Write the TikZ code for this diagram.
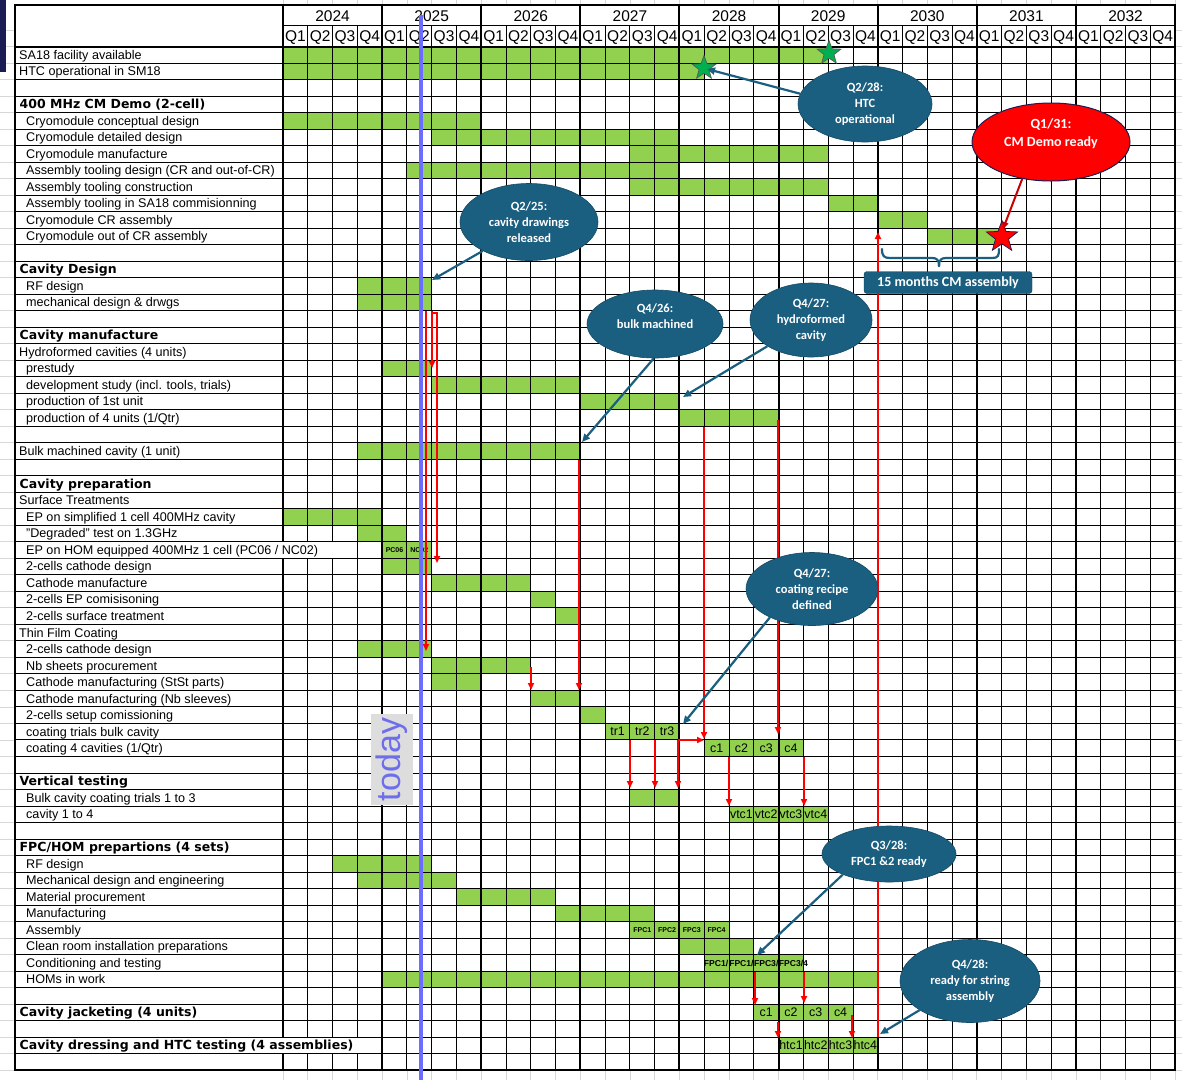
\documentclass[tikz,border=0pt]{standalone}
\usepackage{fontspec}
\setmainfont{Liberation Sans}
\newfontfamily\dvb{DejaVu Sans}
\newfontfamily\calib{Carlito}
\usetikzlibrary{shapes.geometric,arrows.meta}
\definecolor{gr}{RGB}{146,208,80}
\definecolor{tealc}{RGB}{26,94,128}
\definecolor{todayc}{RGB}{108,108,255}
\definecolor{todayt}{RGB}{110,110,235}
\definecolor{todayb}{RGB}{221,221,221}
\definecolor{xlgrid}{RGB}{215,215,215}
\definecolor{navyc}{RGB}{28,28,84}
\definecolor{starg}{RGB}{0,176,80}
\definecolor{darkred}{RGB}{200,0,0}
\newcommand\rowc[1]{46.5+16.51*(#1-0.5)}
\newcommand\qx[1]{283+24.78*(#1)}
\newcommand\rlab[3]{\node[labtxt] (L#1) at (#2,{\rowc{#1}+4.4}) {#3};}
\newcommand\rlabb[2]{\node[labbold] (L#1) at (19.5,{\rowc{#1}+4.4}) {#2};}
\newcommand\celltext[4]{\node[#4] (C#1x#2) at ({\qx{#2+0.5}},{\rowc{#1}+4.3}) {#3};}
\begin{document}
\begin{tikzpicture}[x=1pt,y=-1pt,
  labtxt/.style={anchor=base west,inner sep=0pt,font=\fontsize{12.6}{14}\selectfont},
  labbold/.style={anchor=base west,inner sep=0pt,font=\dvb\bfseries\fontsize{12.5}{14}\selectfont},
  hdr/.style={anchor=base,inner sep=0pt,font=\fontsize{15.5}{16}\selectfont},
  celltxt/.style={anchor=base,inner sep=0pt,font=\fontsize{12.4}{14}\selectfont},
  tinyb/.style={anchor=base,inner sep=0pt,font=\bfseries\fontsize{7}{8}\selectfont},
  condtxt/.style={anchor=base west,inner sep=0pt,font=\bfseries\fontsize{8.6}{9}\selectfont},
  callout/.style={ellipse,fill=tealc,draw=tealc!80!black,line width=0.6pt,text=white,inner sep=0pt,align=center,font=\calib\bfseries\fontsize{12.5}{16}\selectfont},
  redarr/.style={red,line width=2pt,-{Triangle[length=7pt,width=6pt]}},
  tealarr/.style={tealc,line width=2.2pt,-{Triangle[length=8pt,width=7pt]}},
  thinl/.style={line width=0.9pt},
  thickl/.style={line width=2pt},
  starshape/.style={star,star points=5,star point ratio=2.4,inner sep=0pt,line width=0.7pt}
]
\useasboundingbox (0,0) rectangle (1182,1080);
\fill[white] (0,0) rectangle (1182,1080);
% faint spreadsheet gridlines outside the table
\foreach \r in {-1,0,...,62} {
  \draw[xlgrid,line width=0.8pt] (0,{46.5+16.51*\r}) -- (15,{46.5+16.51*\r});
  \draw[xlgrid,line width=0.8pt] (1175,{46.5+16.51*\r}) -- (1182,{46.5+16.51*\r});
}
\foreach \q in {0,...,36} {
  \draw[xlgrid,line width=0.8pt] ({\qx{\q}},1070) -- ({\qx{\q}},1080);
  \draw[xlgrid,line width=0.8pt] ({\qx{\q}},0) -- ({\qx{\q}},5);
}
% slide edge bar
\fill[navyc] (0,0) rectangle (6,72);
% green bars
\foreach \r/\qa/\qb in {1/0/21,2/0/16,5/0/7,6/6/15,7/14/21,8/5/15,9/14/21,10/22/23,11/24/25,12/26/28,15/3/5,16/3/5,20/4/5,21/6/11,22/12/15,23/16/19,25/3/11,29/0/3,30/3/4,31/4/5,32/4/5,33/6/9,34/10/10,35/11/11,37/3/5,38/6/9,39/6/7,40/10/11,41/12/12,42/13/15,43/17/20,46/14/15,47/18/21,50/2/5,51/3/6,52/7/10,53/11/14,54/14/17,55/16/18,56/17/20,57/4/23,59/19/22,61/20/23}
  \fill[gr] ({\qx{\qa}},{46.5+16.51*(\r-1)}) rectangle ({\qx{\qb+1}},{46.5+16.51*\r});
% grid
\foreach \r in {1,...,61} \draw[thinl] (15,{46.5+16.51*\r}) -- (1175,{46.5+16.51*\r});
\draw[thinl] (283,25) -- (1175,25);
\foreach \k in {0,...,8} \foreach \j in {1,2,3}
  \draw[thinl] ({283+99.12*\k+24.78*\j},25) -- ({283+99.12*\k+24.78*\j},1070);
\foreach \k in {1,...,8} \draw[thickl] ({283+99.12*\k},5) -- ({283+99.12*\k},1070);
\draw[thickl] (283,5) -- (283,1070);
\draw[thickl] (15,46.5) -- (1175,46.5);
\draw[line width=2.5pt] (15,5) rectangle (1175,1070.1);
% overflow covers
\fill[white] (281.8,542.4) rectangle (332.5,557.7);
\fill[white] (281.8,1037.7) rectangle (357.5,1053);
% header
\foreach \yr [count=\k from 0] in {2024,2025,2026,2027,2028,2029,2030,2031,2032}
  \node[hdr] (Y\yr) at ({283+99.12*(\k+0.5)},21) {\yr};
\foreach \k in {0,...,8} \foreach \j in {1,2,3,4}
  \node[hdr] (Q\k x\j) at ({283+99.12*\k+24.78*(\j-0.5)},41.5) {Q\j};
% labels
\rlab{1}{19}{SA18 facility available}
\rlab{2}{19}{HTC operational in SM18}
\rlabb{4}{400 MHz CM Demo (2-cell)}
\rlab{5}{26}{Cryomodule conceptual design}
\rlab{6}{26}{Cryomodule detailed design}
\rlab{7}{26}{Cryomodule manufacture}
\rlab{8}{26}{Assembly tooling design (CR and out-of-CR)}
\rlab{9}{26}{Assembly tooling construction}
\rlab{10}{26}{Assembly tooling in SA18 commisionning}
\rlab{11}{26}{Cryomodule CR assembly}
\rlab{12}{26}{Cryomodule out of CR assembly}
\rlabb{14}{Cavity Design}
\rlab{15}{26}{RF design}
\rlab{16}{26}{mechanical design \& drwgs}
\rlabb{18}{Cavity manufacture}
\rlab{19}{19}{Hydroformed cavities (4 units)}
\rlab{20}{26}{prestudy}
\rlab{21}{26}{development study (incl. tools, trials)}
\rlab{22}{26}{production of 1st unit}
\rlab{23}{26}{production of 4 units (1/Qtr)}
\rlab{25}{19}{Bulk machined cavity (1 unit)}
\rlabb{27}{Cavity preparation}
\rlab{28}{19}{Surface Treatments}
\rlab{29}{26}{EP on simplified 1 cell 400MHz cavity}
\rlab{30}{26}{"Degraded" test on 1.3GHz}
\rlab{31}{26}{EP on HOM equipped 400MHz 1 cell (PC06 / NC02)}
\rlab{32}{26}{2-cells cathode design}
\rlab{33}{26}{Cathode manufacture}
\rlab{34}{26}{2-cells EP comisisoning}
\rlab{35}{26}{2-cells surface treatment}
\rlab{36}{19}{Thin Film Coating}
\rlab{37}{26}{2-cells cathode design}
\rlab{38}{26}{Nb sheets procurement}
\rlab{39}{26}{Cathode manufacturing (StSt parts)}
\rlab{40}{26}{Cathode manufacturing (Nb sleeves)}
\rlab{41}{26}{2-cells setup comissioning}
\rlab{42}{26}{coating trials bulk cavity}
\rlab{43}{26}{coating 4 cavities (1/Qtr)}
\rlabb{45}{Vertical testing}
\rlab{46}{26}{Bulk cavity coating trials 1 to 3}
\rlab{47}{26}{cavity 1 to 4}
\rlabb{49}{FPC/HOM prepartions (4 sets)}
\rlab{50}{26}{RF design}
\rlab{51}{26}{Mechanical design and engineering}
\rlab{52}{26}{Material procurement}
\rlab{53}{26}{Manufacturing}
\rlab{54}{26}{Assembly}
\rlab{55}{26}{Clean room installation preparations}
\rlab{56}{26}{Conditioning and testing}
\rlab{57}{26}{HOMs in work}
\rlabb{59}{Cavity jacketing (4 units)}
\rlabb{61}{Cavity dressing and HTC testing (4 assemblies)}
% cell texts
\node[tinyb] (C31x4) at ({\qx{4.5}},{\rowc{31}+2.5}) {PC06};
\node[tinyb] (C31x5) at ({\qx{5.5}},{\rowc{31}+2.5}) {NC02};
\celltext{42}{13}{tr1}{celltxt}
\celltext{42}{14}{tr2}{celltxt}
\celltext{42}{15}{tr3}{celltxt}
\celltext{43}{17}{c1}{celltxt}
\celltext{43}{18}{c2}{celltxt}
\celltext{43}{19}{c3}{celltxt}
\celltext{43}{20}{c4}{celltxt}
\celltext{47}{18}{vtc1}{celltxt}
\celltext{47}{19}{vtc2}{celltxt}
\celltext{47}{20}{vtc3}{celltxt}
\celltext{47}{21}{vtc4}{celltxt}
\node[tinyb] (C54x14) at ({\qx{14.5}},{\rowc{54}+3}) {FPC1};
\node[tinyb] (C54x15) at ({\qx{15.5}},{\rowc{54}+3}) {FPC2};
\node[tinyb] (C54x16) at ({\qx{16.5}},{\rowc{54}+3}) {FPC3};
\node[tinyb] (C54x17) at ({\qx{17.5}},{\rowc{54}+3}) {FPC4};
\node[condtxt] (C56x17) at ({\qx{17}-0.5},{\rowc{56}+3.2}) {FPC1/};
\node[condtxt] (C56x18) at ({\qx{18}},{\rowc{56}+3.2}) {FPC1/};
\node[condtxt] (C56x19) at ({\qx{19}},{\rowc{56}+3.2}) {FPC3/};
\node[condtxt] (C56x20) at ({\qx{20}},{\rowc{56}+3.2}) {FPC3/4};
\celltext{59}{19}{c1}{celltxt}
\celltext{59}{20}{c2}{celltxt}
\celltext{59}{21}{c3}{celltxt}
\celltext{59}{22}{c4}{celltxt}
\celltext{61}{20}{htc1}{celltxt}
\celltext{61}{21}{htc2}{celltxt}
\celltext{61}{22}{htc3}{celltxt}
\celltext{61}{23}{htc4}{celltxt}
% today
\draw[todayc,line width=4.5pt] (421,15) coordinate (td1) -- (421,1080) coordinate (td2);
\node[fill=todayb,rotate=90,minimum width=91pt,minimum height=42pt,inner sep=0pt,text=todayt,font=\fontsize{34}{34}\selectfont] (todaylbl) at (392,759.5) {today};
% red dependency arrows
\coordinate (ra1) at (426,311);  \coordinate (rb1) at (426,651);
\coordinate (ra2) at (432,311);  \coordinate (rb2) at (432,368);
\coordinate (ra3) at (432,312.5);  \coordinate (rb3) at (437,563);
\coordinate (ra4) at (579,460);  \coordinate (rb4) at (579,690);
\coordinate (ra5) at (531,667);  \coordinate (rb5) at (531,690);
\coordinate (ra6) at (704,427);  \coordinate (rb6) at (704,739);
\coordinate (ra7) at (778,420);  \coordinate (rb7) at (778,734);
\coordinate (ra8) at (630,740);  \coordinate (rb8) at (630,788);
\coordinate (ra9) at (655,740);  \coordinate (rb9) at (655,788);
\coordinate (ra10) at (678,740); \coordinate (rb10) at (678,788);
\coordinate (rb11) at (704,740);
\coordinate (ra12) at (729,757); \coordinate (rb12) at (729,806);
\coordinate (ra13) at (804,757); \coordinate (rb13) at (804,806);
\coordinate (ra14) at (755,972); \coordinate (rb14) at (755,1005);
\coordinate (ra15) at (804,972); \coordinate (rb15) at (804,1003);
\coordinate (ra16) at (778,1022); \coordinate (rb16) at (778,1038);
\coordinate (ra17) at (852,1015); \coordinate (rb17) at (852,1038);
\coordinate (ra18) at (878,1037); \coordinate (rb18) at (878,232);
\draw[redarr] (ra1) -- (rb1);
\draw[redarr] (ra2) -- (rb2);
\draw[redarr] (ra3) -| (rb3);
\draw[redarr] (ra4) -- (rb4);
\draw[redarr] (ra5) -- (rb5);
\draw[redarr] (ra6) -- (rb6);
\draw[redarr] (ra7) -- (rb7);
\draw[redarr] (ra8) -- (rb8);
\draw[redarr] (ra9) -- (rb9);
\draw[redarr] (ra10) -- (rb10);
\draw[redarr] (ra10) -- (rb11);
\draw[redarr] (ra12) -- (rb12);
\draw[redarr] (ra13) -- (rb13);
\draw[redarr] (ra14) -- (rb14);
\draw[redarr] (ra15) -- (rb15);
\draw[redarr] (ra16) -- (rb16);
\draw[redarr] (ra17) -- (rb17);
\draw[redarr] (ra18) -- (rb18);
% stars
\node[starshape,fill=starg,draw=black!65,minimum size=25pt] (starA) at (829,53) {};
\node[starshape,fill=starg,draw=black!65,minimum size=25pt] (starB) at (704,68) {};
\node[starshape,fill=red,draw=navyc,minimum size=33pt] (starC) at (1002,237) {};
% callouts
\node[callout,minimum width=134pt,minimum height=76pt] (e1) at (865,104) {Q2/28:\\HTC\\operational};
\node[callout,fill=red,draw=navyc,line width=1pt,font=\calib\bfseries\fontsize{14}{18}\selectfont,minimum width=158pt,minimum height=78pt] (e2) at (1051,142) {Q1/31:\\CM Demo ready\\~};
\node[callout,minimum width=138pt,minimum height=77pt] (e3) at (529,222) {Q2/25:\\cavity drawings\\released};
\node[callout,minimum width=136pt,minimum height=68pt] (e4) at (655,324) {Q4/26:\\bulk machined\\~};
\node[callout,minimum width=122pt,minimum height=74pt] (e5) at (811,320) {Q4/27:\\hydroformed\\cavity};
\node[callout,minimum width=132pt,minimum height=73pt] (e6) at (812,589) {Q4/27:\\coating recipe\\defined};
\node[callout,minimum width=134pt,minimum height=56pt] (e7) at (889,854) {Q3/28:\\FPC1 \&2 ready};
\node[callout,minimum width=140pt,minimum height=83pt] (e8) at (970,981) {Q4/28:\\ready for string\\assembly};
\coordinate (t1) at (707,69);
\coordinate (t2) at (1003,229);
\coordinate (t3) at (432,280);
\coordinate (t4) at (582,442);
\coordinate (t5) at (683,397);
\coordinate (t6) at (683,724);
\coordinate (t7) at (757,955);
\coordinate (t8) at (880,1034);
\draw[tealarr] (e1.171) -- (t1);
\draw[darkred,line width=2pt,-{Triangle[length=7pt,width=6pt]}] (e2.232) -- (t2);
\draw[tealarr] (e3.212) -- (t3);
\draw[tealarr] (e4.268) -- (t4);
\draw[tealarr] (e5.211) -- (t5);
\draw[tealarr] (e6.214) -- (t6);
\draw[tealarr] (e7.204) -- (t7);
\draw[tealarr] (e8.210) -- (t8);
% 15 months brace and box
\draw[tealc,line width=2.2pt,line cap=round] (882,249) .. controls (882,256) and (884,258) .. (890,258) -- (932,258) .. controls (937,258) and (939,260) .. (939,266);
\draw[tealc,line width=2.2pt,line cap=round] (939,266) .. controls (939,260) and (941,258) .. (946,258) -- (992,258) .. controls (998,258) and (999,256) .. (999,249);
\node[rounded corners=3pt,fill=tealc,draw=tealc!70!black,text=white,inner sep=0pt,minimum width=168pt,minimum height=22pt,font=\calib\bfseries\fontsize{14}{16}\selectfont] (cmbox) at (948,282.5) {15 months CM assembly};
\end{tikzpicture}
\end{document}
